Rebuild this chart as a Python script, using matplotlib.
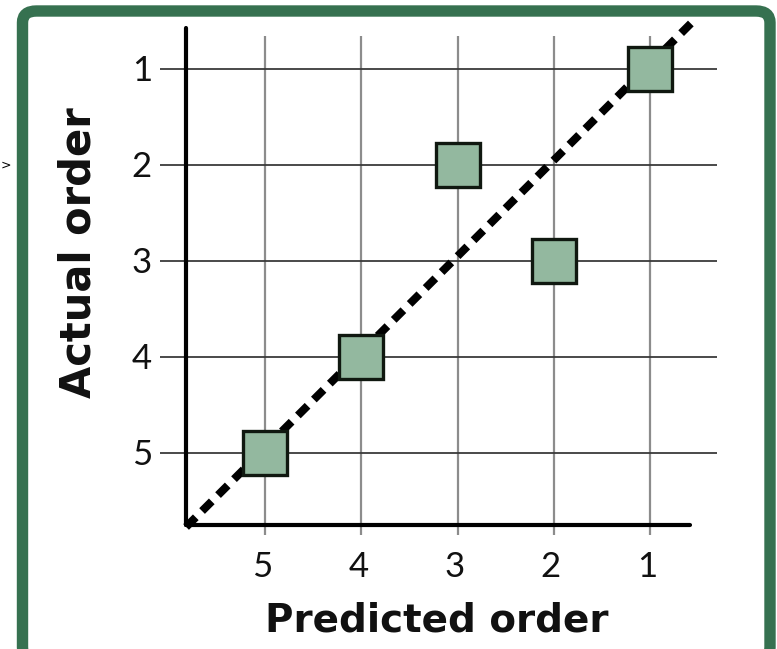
import matplotlib
matplotlib.use("Agg")
import matplotlib.pyplot as plt
from matplotlib.patches import FancyBboxPatch

# Data
predicted = [5, 4, 3, 2, 1]
actual = [5, 4, 2, 3, 1]
tick_values = [1, 2, 3, 4, 5]
tick_labels = ["1", "2", "3", "4", "5"]
ref_line = [5.82, 0.55]

W, H = 777, 649
fig = plt.figure(figsize=(W / 100, H / 100), dpi=100)
fig.patch.set_facecolor("white")

# frame
frame = FancyBboxPatch((22.5 / W, -10 / H), (770 - 22.5) / W, (649 - 11 + 10) / H,
                       boxstyle="round,pad=0,rounding_size=0.018",
                       transform=fig.transFigure, facecolor="none",
                       edgecolor="#367150", linewidth=8.2, zorder=0)
fig.patches.append(frame)
fig.text(1 / W, 1 - 165 / H, ">", fontsize=9, ha="left", va="center", color="black")

left_px, right_px, top_px, bot_px = 150, 730, 15, 545
ax = fig.add_axes([left_px / W, (H - bot_px) / H, (right_px - left_px) / W, (bot_px - top_px) / H])
ax.set_xlim(6.195, 0.169)
ax.set_ylim(5.958, 0.4375)
ax.axis("off")

tick_font = "Lato"
label_font = "DejaVu Sans"

# gridlines
ax.vlines(tick_values, 0.656, 5.854, colors="#8c8c8c", linewidth=1.6, zorder=1)
ax.hlines(tick_values, 6.09, 0.304, colors="#3a3a3a", linewidth=1.3, zorder=1)

# axis lines
ax.plot([5.82, 5.82], [0.573, 5.75], color="black", linewidth=3.0, solid_capstyle="round", zorder=2)
ax.plot([5.82, 0.584], [5.75, 5.75], color="black", linewidth=3.0, solid_capstyle="round", zorder=2)

# diagonal reference line
ax.plot(ref_line, [r - 0.05 for r in ref_line], color="black", linewidth=5.8,
        dashes=(1.7, 1.1), dash_capstyle="butt", zorder=3)

# points
ax.plot(predicted, actual, linestyle="none", marker="s", markersize=31,
        markerfacecolor="#93b89f", markeredgecolor="#101810", markeredgewidth=2.4, zorder=4)

# tick labels
for v, lab in zip(tick_values, tick_labels):
    ax.text(v + 0.03, 6.19, lab, ha="center", va="center", fontsize=25, family=tick_font, color="#111111")
    ax.text(6.28, v + 0.02, lab, ha="center", va="center", fontsize=25, family=tick_font, color="#111111")

fig.text(437 / W, 1 - 620 / H, "Predicted order", ha="center", va="center",
         fontsize=28, fontweight="bold", family=label_font, color="#111111")
fig.text(79 / W, 1 - 253 / H, "Actual order", ha="center", va="center", rotation=90,
         fontsize=30, fontweight="bold", family=label_font, color="#111111")

fig.savefig("out.png", dpi=100)
